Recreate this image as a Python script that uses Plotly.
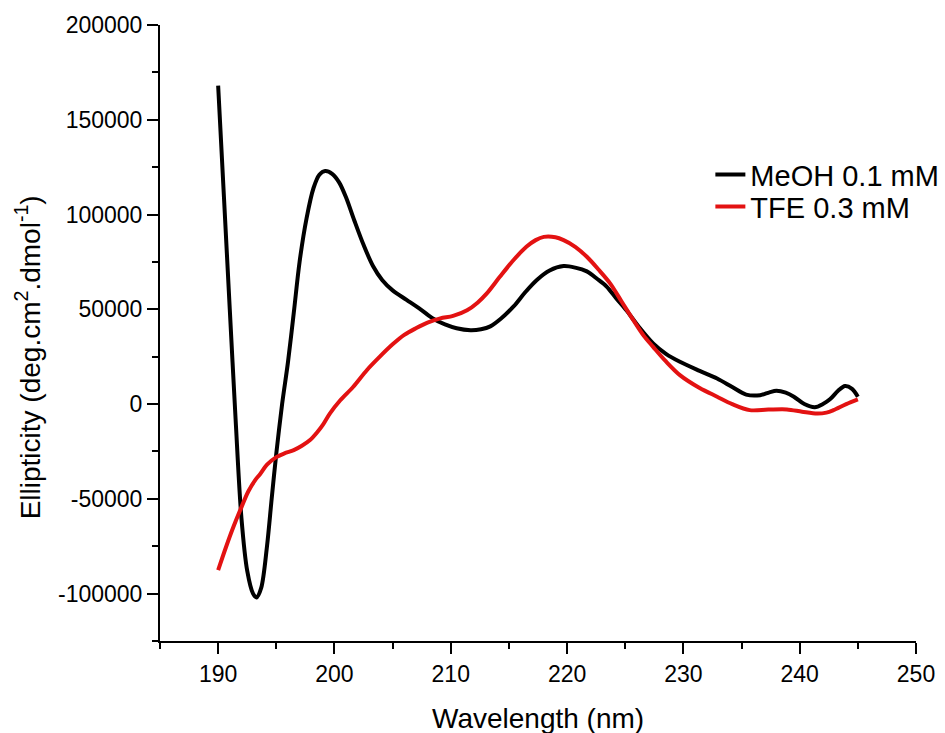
import plotly.graph_objects as go

# MeOH 0.1 mM CD spectrum
meoh_nm = [190.0, 190.5, 191.0, 191.5, 192.0, 192.5, 193.0, 193.3, 193.7, 194.2,
           194.6, 195.0, 195.5, 196.0, 196.5, 197.0, 197.6, 198.2, 198.7, 199.2,
           199.8, 200.4, 201.0, 201.7, 202.5, 203.3, 204.1, 205.0, 206.2, 207.4,
           208.5, 209.5, 210.5, 211.7, 212.6, 213.4, 214.3, 215.4, 216.4, 217.4,
           218.5, 219.7, 220.7, 221.7, 222.6, 223.4, 224.2, 225.1, 226.2, 227.4,
           228.5, 229.7, 231.4, 232.9, 234.2, 235.4, 236.6, 237.4, 238.0, 238.8,
           239.5, 240.4, 241.3, 242.0, 242.6, 243.3, 243.9, 244.5, 245.0]
meoh_ell = [168000, 109000, 50000, -8000, -60000, -88000, -100000, -102000, -97000, -75000,
            -50000, -26000, 0, 22000, 48000, 75000, 98000, 114000, 121000, 123000,
            121500, 117000, 109000, 97000, 84000, 73000, 65500, 60000, 55000, 50000,
            45000, 42000, 40000, 39000, 39500, 41000, 45000, 51500, 59000, 65500,
            70500, 72800, 72000, 70000, 66000, 62000, 56000, 49500, 40500, 32000,
            26500, 22300, 17500, 13500, 9000, 5000, 4700, 6200, 7000, 6000,
            3900, 0, -1700, 0, 2500, 7000, 9500, 8000, 3900]

# TFE 0.3 mM CD spectrum
tfe_nm = [190.0, 190.7, 191.3, 191.9, 192.6, 193.2, 193.6, 194.2, 195.0, 195.7,
          196.5, 197.2, 197.9, 198.5, 199.0, 199.6, 200.5, 201.6, 202.8, 203.9,
          205.0, 206.0, 207.0, 208.0, 209.1, 210.2, 211.4, 212.3, 213.1, 214.2,
          215.4, 216.5, 217.3, 218.0, 219.0, 219.7, 220.7, 221.7, 222.7, 223.7,
          224.7, 225.7, 226.6, 227.4, 228.5, 229.7, 231.4, 232.9, 234.2, 235.7,
          237.3, 238.9, 240.2, 241.5, 242.3, 242.9, 244.0, 245.0]
tfe_ell = [-87600, -75000, -65000, -55900, -46000, -40000, -37000, -32000, -28000, -26000,
           -24300, -22000, -19000, -15000, -11000, -5000, 2000, 9000, 18000, 25000,
           31500, 36500, 40000, 43000, 45200, 46500, 49500, 53500, 58400, 67000,
           76000, 83000, 86500, 88200, 88000, 86500, 83000, 77700, 71000, 63700,
           54000, 44300, 36000, 30200, 22500, 15300, 8500, 3900, 0, -3200,
           -2900, -2800, -4000, -5000, -4500, -3200, 0, 2500]

x_ticks = [190, 200, 210, 220, 230, 240, 250]
y_ticks = [-100000, -50000, 0, 50000, 100000, 150000, 200000]

FONT = "Liberation Sans, Arial, sans-serif"

fig = go.Figure()
fig.add_trace(go.Scatter(x=meoh_nm, y=meoh_ell, mode="lines", name="MeOH 0.1 mM",
                         legend="legend",
                         line=dict(color="#000000", width=4, shape="spline", smoothing=0.9)))
fig.add_trace(go.Scatter(x=tfe_nm, y=tfe_ell, mode="lines", name="TFE 0.3 mM",
                         legend="legend2",
                         line=dict(color="#e31212", width=4, shape="spline", smoothing=0.9)))

axis_common = dict(showgrid=False, zeroline=False, showline=True, linecolor="black",
                   linewidth=2, ticks="outside", tickcolor="black", tickwidth=2,
                   ticklen=11, tickfont=dict(family=FONT, size=23, color="black"))

fig.update_xaxes(range=[185, 250], tickvals=x_ticks, ticktext=[str(v) for v in x_ticks],
                 minor=dict(dtick=5, tick0=185, ticks="outside", ticklen=6, tickwidth=2,
                            tickcolor="black"),
                 **axis_common)
fig.update_yaxes(range=[-125000, 200000], tickvals=y_ticks, ticktext=[str(v) for v in y_ticks],
                 minor=dict(dtick=25000, tick0=-125000, ticks="outside", ticklen=6, tickwidth=2,
                            tickcolor="black"),
                 **axis_common)

fig.add_annotation(text="Wavelength (nm)", xref="paper", yref="paper", x=0.5, y=-0.125,
                   xanchor="center", yanchor="middle", showarrow=False,
                   font=dict(family=FONT, size=28, color="black"))
fig.add_annotation(text="Ellipticity (deg.cm<sup>2</sup>.dmol<sup>-1</sup>)",
                   xref="paper", yref="paper", x=-0.175, y=0.46, textangle=-90,
                   xanchor="center", yanchor="middle", showarrow=False,
                   font=dict(family=FONT, size=28, color="black"))

legend_style = dict(xanchor="left", yanchor="middle", bgcolor="rgba(0,0,0,0)",
                    font=dict(family=FONT, size=29, color="black"), itemwidth=30)

fig.update_layout(
    width=945, height=733,
    margin=dict(l=160, r=29, t=25, b=92, autoexpand=False),
    plot_bgcolor="white", paper_bgcolor="white",
    showlegend=True,
    legend=dict(x=0.728, y=0.757, **legend_style),
    legend2=dict(x=0.728, y=0.705, **legend_style),
)

fig.write_html("out.html")
